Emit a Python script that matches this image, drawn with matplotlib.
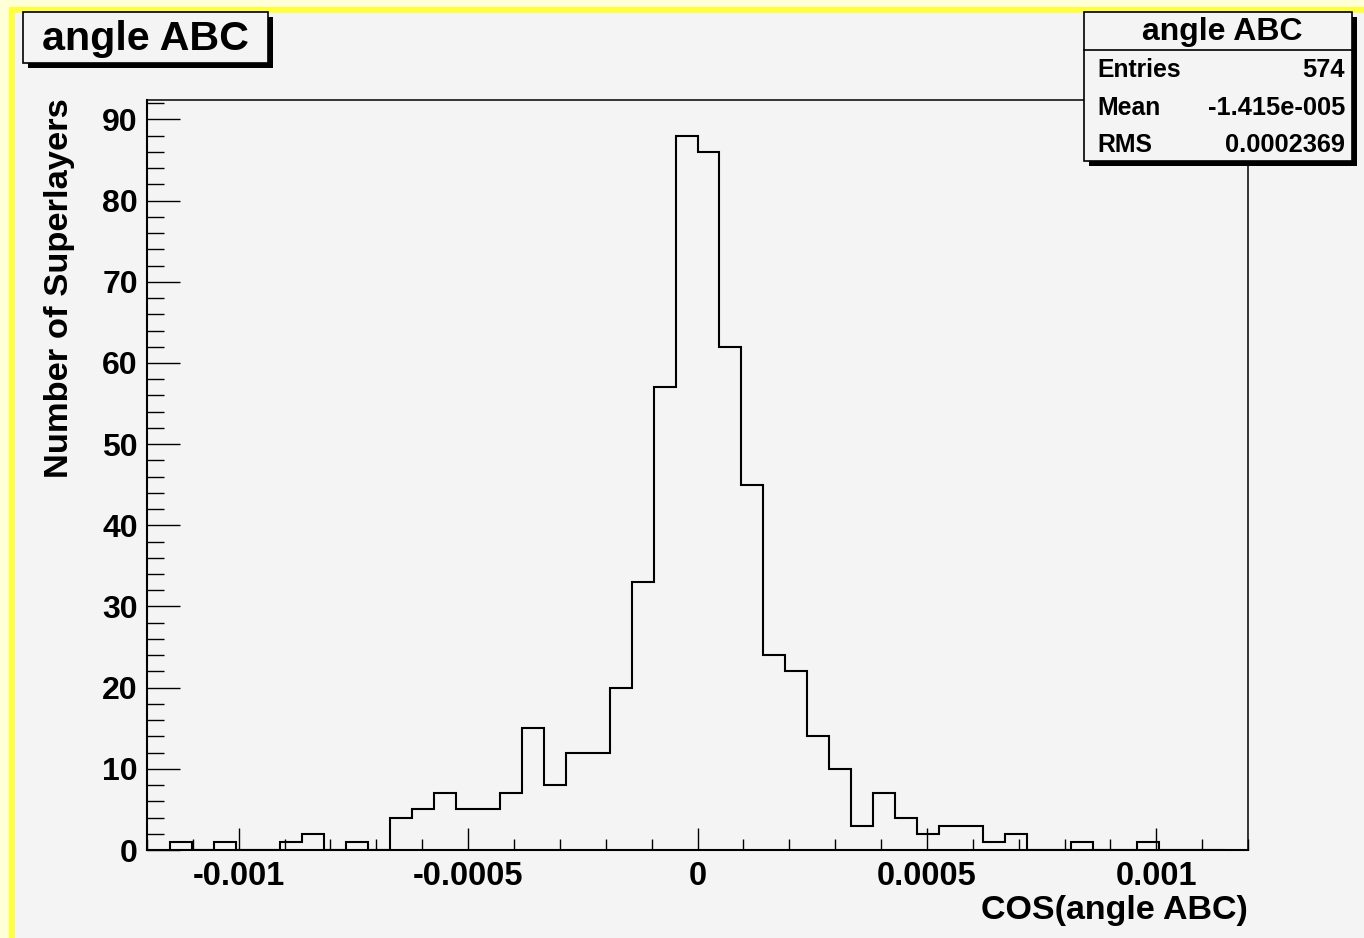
import numpy as np
import matplotlib
matplotlib.use("Agg")
import matplotlib.pyplot as plt
from matplotlib.patches import Rectangle
from matplotlib.ticker import MultipleLocator, FixedLocator, FixedFormatter

# ---- data ----
hist_min = -0.00115
hist_max = 0.00115
n_bins = 48
counts = [1, 0, 1, 0, 0, 1, 2, 0, 1, 0, 4, 5, 7, 5, 5, 7, 15, 8, 12, 12,
          20, 33, 57, 88, 86, 62, 45, 24, 22, 14, 10, 3, 7, 4, 2, 3, 3, 1, 2, 0,
          0, 1, 0, 0, 1, 0, 0, 0]
x_ticks = [-0.001, -0.0005, 0.0, 0.0005, 0.001]
x_tick_labels = ["-0.001", "-0.0005", "0", "0.0005", "0.001"]
y_ticks = [0, 10, 20, 30, 40, 50, 60, 70, 80, 90]
title = "angle ABC"
x_label = "COS(angle ABC)"
y_label = "Number of Superlayers"
stats_names = ["Entries", "Mean", "RMS"]
stats_values = ["574", "-1.415e-005", "0.0002369"]

W, H = 1364, 938
FONT = "Liberation Sans"
BG = "#f4f4f4"

fig = plt.figure(figsize=(W / 100, H / 100), dpi=100, facecolor="#ffffd8")

def fx(x):
    return x / W

def fy(y):
    return 1 - y / H

# yellow frame and grey canvas (behind everything)
fig.patches.append(Rectangle((fx(9), fy(H + 20)), fx(W + 20), (H + 20 - 7) / H,
                             transform=fig.transFigure, facecolor="#ffff40",
                             edgecolor="none", zorder=-2))
fig.patches.append(Rectangle((fx(15), fy(H + 20)), fx(W + 20), (H + 20 - 13) / H,
                             transform=fig.transFigure, facecolor=BG,
                             edgecolor="none", zorder=-1))

ax = fig.add_axes([fx(147), fy(850), fx(1248 - 147), (850 - 100) / H])
ax.set_zorder(1)
ax.set_facecolor(BG)
ax.patch.set_alpha(0)

edges = np.linspace(hist_min, hist_max, n_bins + 1)
ax.stairs(counts, edges, baseline=0, color="black", linewidth=1.5, zorder=3)

ax.set_xlim(-0.0012, 0.0012)
ax.set_ylim(0, 92.4)

for s in ax.spines.values():
    s.set_color("black")
ax.spines["left"].set_linewidth(1.5)
ax.spines["bottom"].set_linewidth(1.5)
ax.spines["top"].set_linewidth(1.1)
ax.spines["right"].set_linewidth(1.1)

ax.xaxis.set_major_locator(FixedLocator(x_ticks))
ax.xaxis.set_major_formatter(FixedFormatter(x_tick_labels))
ax.xaxis.set_minor_locator(MultipleLocator(0.0001))
ax.yaxis.set_major_locator(FixedLocator(y_ticks))
ax.yaxis.set_minor_locator(MultipleLocator(2))

ax.tick_params(axis="both", which="both", direction="in", top=False, right=False,
               width=1.0, color="black")
ax.tick_params(axis="y", which="major", length=24, pad=6.5)
ax.tick_params(axis="y", which="minor", length=12)
ax.tick_params(axis="x", which="major", length=16, pad=8)
ax.tick_params(axis="x", which="minor", length=8)
for lab in ax.get_yticklabels():
    lab.set_fontfamily(FONT)
    lab.set_fontweight("bold")
    lab.set_fontsize(23)
for lab in ax.get_xticklabels():
    lab.set_fontfamily(FONT)
    lab.set_fontweight("bold")
    lab.set_fontsize(23.5)

# axis titles
fig.text(fx(60), fy(98), y_label, rotation=90, ha="center", va="top",
         fontfamily=FONT, fontweight="bold", fontsize=24.8)
fig.text(fx(1248), fy(910), x_label, ha="right", va="center",
         fontfamily=FONT, fontweight="bold", fontsize=24.5)

# boxes with shadow
def shadow_box(x0, y0, x1, y1, off=5, lw=1.2):
    fig.patches.append(Rectangle((fx(x0 + off), fy(y1 + off)), fx(x1 - x0), (y1 - y0) / H,
                                 transform=fig.transFigure, facecolor="black",
                                 edgecolor="none", zorder=5))
    fig.patches.append(Rectangle((fx(x0), fy(y1)), fx(x1 - x0), (y1 - y0) / H,
                                 transform=fig.transFigure, facecolor=BG,
                                 edgecolor="black", linewidth=lw, zorder=6))

shadow_box(23, 12, 268, 63)
fig.text(fx(42), fy(50), title, ha="left", va="baseline", fontfamily=FONT,
         fontweight="bold", fontsize=29.7, zorder=7)

# stats box
shadow_box(1084, 12, 1352, 161)
fig.add_artist(plt.Line2D([fx(1084), fx(1352)], [fy(50), fy(50)],
                          transform=fig.transFigure, color="black", lw=1.2, zorder=7))
fig.text(fx(1222), fy(40), title, ha="center", va="baseline", fontfamily=FONT,
         fontweight="bold", fontsize=23, zorder=7)
row_baselines = [77, 115, 152]
for name, val, yb in zip(stats_names, stats_values, row_baselines):
    fig.text(fx(1097), fy(yb), name, ha="left", va="baseline", fontfamily=FONT,
             fontweight="bold", fontsize=17.8, zorder=7)
    fig.text(fx(1345), fy(yb), val, ha="right", va="baseline", fontfamily=FONT,
             fontweight="bold", fontsize=18.3, zorder=7)

fig.savefig("out.png", dpi=100, facecolor=fig.get_facecolor())
